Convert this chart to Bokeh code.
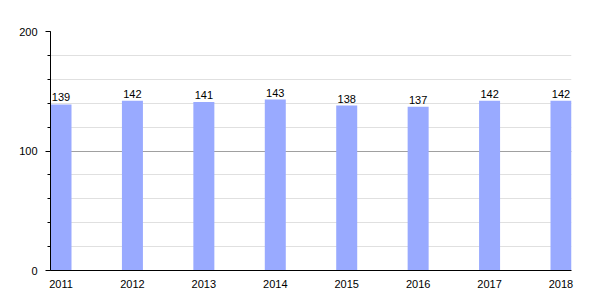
from bokeh.plotting import figure
from bokeh.models import SingleIntervalTicker, ColumnDataSource, FixedTicker
from bokeh.core.properties import value
from bokeh.embed import file_html
from bokeh.resources import INLINE

years = ["2011", "2012", "2013", "2014", "2015", "2016", "2017", "2018"]
values = [139, 142, 141, 143, 138, 137, 142, 142]

xs = list(range(len(years)))
src = ColumnDataSource(dict(x=xs, top=values, label=[str(v) for v in values]))

p = figure(width=600, height=300, output_backend="svg", toolbar_location=None,
           x_range=(-0.147, 7.147), y_range=(0, 200),
           min_border_left=50, min_border_right=29, min_border_top=31, min_border_bottom=30)
p.outline_line_color = None
p.background_fill_color = "white"
p.border_fill_color = "white"

p.vbar(x="x", top="top", width=0.294, source=src, color="#99aaff", line_color=None)
p.text(x="x", y="top", text="label", source=src, text_align="center", text_baseline="bottom",
       y_offset=-3, text_font=value("Liberation Sans"), text_font_size="11px", text_color="black")

p.xaxis.ticker = FixedTicker(ticks=xs)
p.xaxis.major_label_overrides = {i: y for i, y in enumerate(years)}
p.xaxis.major_tick_line_color = None
p.xaxis.minor_tick_line_color = None
p.xaxis.major_label_standoff = 3
p.xaxis.axis_line_color = "black"

p.yaxis.ticker = SingleIntervalTicker(interval=100, num_minor_ticks=5)
p.yaxis.major_tick_out = 5
p.yaxis.major_tick_in = 0
p.yaxis.minor_tick_out = 3
p.yaxis.minor_tick_in = 0
p.yaxis.major_label_standoff = 8
p.yaxis.axis_line_color = "black"

for ax in (p.xaxis, p.yaxis):
    ax.major_label_text_font = "Liberation Sans"
    ax.major_label_text_font_size = "11px"
    ax.major_label_text_color = "black"

p.xgrid.grid_line_color = None
p.ygrid.ticker = SingleIntervalTicker(interval=100, num_minor_ticks=5)
p.ygrid.grid_line_color = "#a0a0a0"
p.ygrid.minor_grid_line_color = "#e0e0e0"

open("out.html", "w").write(file_html(p, INLINE))
